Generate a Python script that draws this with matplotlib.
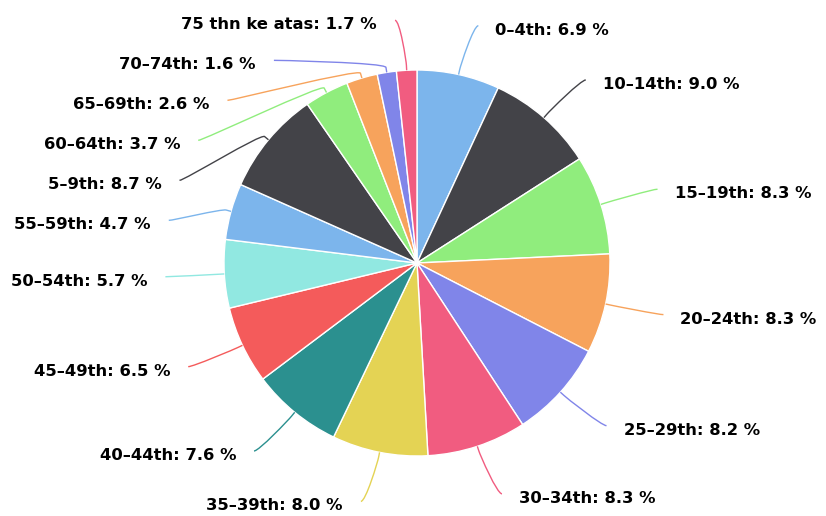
import numpy as np
import matplotlib
matplotlib.use("Agg")
import matplotlib.pyplot as plt
from matplotlib.path import Path
from matplotlib.patches import PathPatch

categories = ["0–4th", "10–14th", "15–19th", "20–24th", "25–29th", "30–34th",
              "35–39th", "40–44th", "45–49th", "50–54th", "55–59th", "5–9th",
              "60–64th", "65–69th", "70–74th", "75 thn ke atas"]
values = [6.9, 9.0, 8.3, 8.3, 8.2, 8.3, 8.0, 7.6, 6.5, 5.7, 4.7, 8.7,
          3.7, 2.6, 1.6, 1.7]
palette = ["#7cb5ec", "#434348", "#90ed7d", "#f7a35c", "#8085e9",
           "#f15c80", "#e4d354", "#2b908f", "#f45b5b", "#91e8e1"]
colors = [palette[i % len(palette)] for i in range(len(values))]

W, H = 826, 516
fig = plt.figure(figsize=(W / 100, H / 100), dpi=100)
ax = fig.add_axes([0, 0, 1, 1])

cx, cy, r = 417, 263, 193
wedges, _ = ax.pie(values, colors=colors, startangle=-90, counterclock=True,
                   radius=r, center=(cx, cy),
                   wedgeprops=dict(edgecolor="white", linewidth=1))
ax.set_xlim(0, W)
ax.set_ylim(H, 0)
ax.set_aspect("equal")
ax.axis("off")

R = r + 50          # label distance
spacing = 40        # min vertical spacing between labels
xpad = 9
fs = 11.8

info = []
for i, w in enumerate(wedges):
    th = np.deg2rad((w.theta1 + w.theta2) / 2)
    ux, uy = np.cos(th), np.sin(th)
    left = ux < 0
    info.append(dict(i=i, ux=ux, uy=uy, left=left, y=cy + R * uy))

for side in (True, False):
    items = sorted([d for d in info if d["left"] == side], key=lambda d: d["y"])
    prev = None
    for d in items:
        if prev is not None and d["y"] < prev + spacing:
            d["y"] = prev + spacing
        prev = d["y"]

for d in info:
    i = d["i"]
    dy = d["y"] - cy
    dx = np.sqrt(max(R * R - dy * dy, 0)) + xpad
    sgn = -1 if d["left"] else 1
    ax_ = cx + sgn * dx
    ay_ = d["y"]
    tx, ty = cx + r * d["ux"], cy + r * d["uy"]
    bx, by = cx + (r + 5) * d["ux"], cy + (r + 5) * d["uy"]
    verts = [(ax_, ay_), (ax_ - sgn * 5, ay_), (2 * bx - tx, 2 * by - ty),
             (bx, by), (tx, ty)]
    codes = [Path.MOVETO, Path.CURVE4, Path.CURVE4, Path.CURVE4, Path.LINETO]
    ax.add_patch(PathPatch(Path(verts, codes), facecolor="none",
                           edgecolor=colors[i], lw=1, zorder=3))
    label = f"{categories[i]}: {values[i]:.1f} %"
    if d["left"]:
        ax.text(ax_ - 18, ay_ + 4.5, label, ha="right", va="center",
                fontsize=fs, fontweight="bold", color="black")
    else:
        ax.text(ax_ + 17, ay_ + 4.5, label, ha="left", va="center",
                fontsize=fs, fontweight="bold", color="black")

fig.savefig("out.png", dpi=100)
